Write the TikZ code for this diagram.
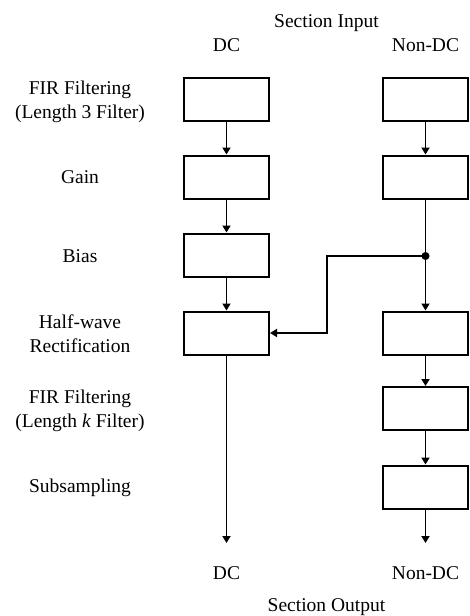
\documentclass[tikz,border=0pt]{standalone}
\usepackage{fontspec}
\setmainfont{Liberation Serif}
\newfontfamily\tnr{Liberation Serif}
\usetikzlibrary{arrows.meta}
\begin{document}
\begin{tikzpicture}[x=1pt,y=-1pt,
  lbl/.style={font=\tnr\fontsize{19.5}{23.5}\selectfont,align=center,anchor=base,inner sep=0pt},
  blk/.style={draw,line width=2pt,minimum width=85pt,minimum height=43pt,inner sep=0pt},
  conn/.style={line width=1.8pt},
  arr/.style={conn,-{Triangle[length=7pt,width=8pt]}}]
\useasboundingbox (0,0) rectangle (470,616);
% headings
\node[lbl] (secin) at (326.5,27) {Section Input};
\node[lbl] (dcin) at (226.5,51) {DC};
\node[lbl] (ndcin) at (425.5,51) {Non-DC};
\node[lbl] (dcout) at (226.5,579) {DC};
\node[lbl] (ndcout) at (425.5,579) {Non-DC};
\node[lbl] (secout) at (326.5,611) {Section Output};
% row labels (base = baseline of last line)
\node[lbl] (t1) at (80,118) {FIR Filtering\\(Length 3 Filter)};
\node[lbl] (t2) at (80,183) {Gain};
\node[lbl] (t3) at (80,262) {Bias};
\node[lbl] (t4) at (80,352) {Half-wave\\Rectification};
\node[lbl] (t5) at (80,427) {FIR Filtering\\(Length \textit{k} Filter)};
\node[lbl] (t6) at (80,492) {Subsampling};
% blocks
\node[blk] (l1) at (226.5,99.5) {};
\node[blk] (l2) at (226.5,177) {};
\node[blk] (l3) at (226.5,255) {};
\node[blk] (l4) at (226.5,333) {};
\node[blk] (r1) at (425.5,99.5) {};
\node[blk] (r2) at (425.5,177) {};
\node[blk] (r4) at (425.5,333) {};
\node[blk] (r5) at (425.5,408.5) {};
\node[blk] (r6) at (425.5,487) {};
% points
\coordinate (dot) at (425.5,256);
\coordinate (bend1) at (327,256);
\coordinate (bend2) at (327,333);
\coordinate (lend) at (226.5,543);
\coordinate (rend) at (425.5,543);
% connectors
\draw[arr] (l1) -- (l2);
\draw[arr] (l2) -- (l3);
\draw[arr] (l3) -- (l4);
\draw[arr] (l4) -- (lend);
\draw[arr] (r1) -- (r2);
\draw[conn] (r2) -- (dot);
\draw[arr] (dot) -- (r4);
\draw[arr] (dot) -- (bend1) -- (bend2) -- (l4.east);
\draw[arr] (r4) -- (r5);
\draw[arr] (r5) -- (r6);
\draw[arr] (r6) -- (rend);
\fill (dot) circle (4pt);
\end{tikzpicture}
\end{document}
